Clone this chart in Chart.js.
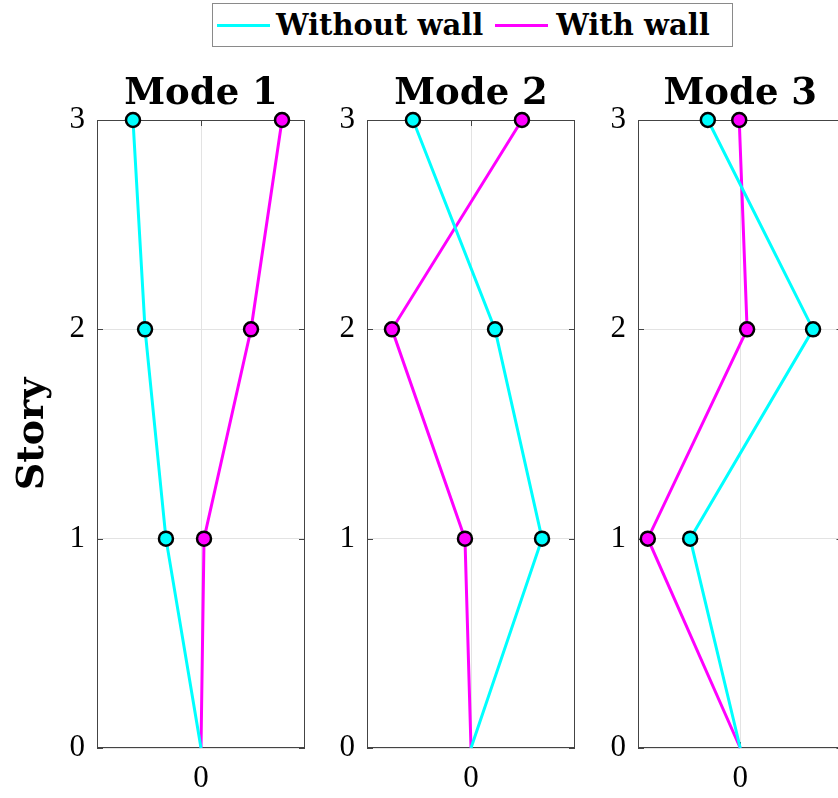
<!DOCTYPE html>
<html>
<head>
<meta charset="utf-8">
<script src="https://cdn.jsdelivr.net/npm/chart.js@4/dist/chart.umd.min.js"></script>
<style>
  html, body { margin: 0; padding: 0; background: #fff; overflow: hidden; width: 838px; height: 798px; }
  .panel { position: absolute; top: 0; height: 798px; }
  #legend {
    position: absolute; left: 212px; top: 3px; width: 519px; height: 42px;
    border: 1.5px solid #8a8a8a; background: #fff;
    font: bold 29px "DejaVu Serif", serif; color: #000;
    display: flex; align-items: center; white-space: nowrap;
  }
  #legend .sw { display: inline-block; width: 53px; height: 3px; }
</style>
</head>
<body>
<canvas id="p1" class="panel" style="left:0px" width="320" height="798"></canvas>
<canvas id="p2" class="panel" style="left:320px" width="270" height="798"></canvas>
<canvas id="p3" class="panel" style="left:590px" width="262" height="798"></canvas>
<div id="legend">
  <span class="sw" style="background:#00ffff;margin:0 6px 0 4px"></span><span>Without wall</span>
  <span class="sw" style="background:#ff00ff;margin:0 8px 0 12px"></span><span>With wall</span>
</div>
<script>
'use strict';

// story levels (y) and modal displacement (x)
const stories = [0, 1, 2, 3];
const modeTitles = ['Mode 1', 'Mode 2', 'Mode 3'];
const seriesNames = ['Without wall', 'With wall'];
const withoutWall1 = [0, -0.337, -0.538, -0.654];
const withWall1 = [0, 0.029, 0.481, 0.779];
const withoutWall2 = [0, 0.683, 0.231, -0.558];
const withWall2 = [0, -0.058, -0.76, 0.49];
const withoutWall3 = [0, -0.49, 0.712, -0.317];
const withWall3 = [0, -0.904, 0.067, -0.01];
const xTicks = [0];
const yTicks = [0, 1, 2, 3];

const CYAN = '#00ffff', MAGENTA = '#ff00ff';
const tickFont = { family: '"Liberation Serif", serif', size: 31 };

// box, inward ticks and title for each panel
const frame = {
  id: 'frame',
  beforeDatasetsDraw(chart, args, opts) {
    const { ctx, chartArea: a, scales } = chart;
    ctx.save();
    ctx.strokeStyle = '#444';
    ctx.lineWidth = 1;
    ctx.strokeRect(a.left + 0.5, a.top + 0.5, a.right - a.left - 1, a.bottom - a.top - 1);
    ctx.beginPath();
    yTicks.forEach(v => {
      const y = Math.round(scales.y.getPixelForValue(v)) + 0.5;
      ctx.moveTo(a.left, y); ctx.lineTo(a.left + 6, y);
      ctx.moveTo(a.right, y); ctx.lineTo(a.right - 6, y);
    });
    xTicks.forEach(v => {
      const x = Math.round(scales.x.getPixelForValue(v)) + 0.5;
      ctx.moveTo(x, a.top); ctx.lineTo(x, a.top + 6);
      ctx.moveTo(x, a.bottom); ctx.lineTo(x, a.bottom - 6);
    });
    ctx.stroke();
    ctx.restore();
  },
  afterDraw(chart, args, opts) {
    const { ctx, chartArea: a } = chart;
    ctx.save();
    ctx.fillStyle = '#000';
    ctx.font = 'bold 37px "DejaVu Serif", serif';
    ctx.textAlign = 'center';
    ctx.textBaseline = 'alphabetic';
    ctx.fillText(opts.title, (a.left + a.right) / 2, 104);
    ctx.restore();
  }
};

const makeSet = (label, xs, color) => ({
  label: label,
  data: xs.map((x, i) => ({ x: x, y: stories[i] })),
  showLine: true,
  borderColor: color,
  borderWidth: 3,
  backgroundColor: color,
  pointBackgroundColor: color,
  pointBorderColor: '#000',
  pointBorderWidth: 2.5,
  pointRadius: stories.map(s => s === 0 ? 0 : 7),
  clip: false
});

const makePanel = (id, title, withoutWall, withWall, axisWidth, padRight, showTitle) => {
  new Chart(document.getElementById(id), {
    type: 'scatter',
    data: {
      datasets: [
        makeSet(seriesNames[0], withoutWall, CYAN),
        makeSet(seriesNames[1], withWall, MAGENTA)
      ]
    },
    options: {
      responsive: false,
      animation: false,
      events: [],
      layout: { padding: { top: 120, right: padRight, left: 0, bottom: 0 } },
      plugins: {
        legend: { display: false },
        tooltip: { enabled: false },
        frame: { title: title }
      },
      scales: {
        x: {
          min: -1, max: 1,
          afterBuildTicks: s => { s.ticks = xTicks.map(v => ({ value: v })); },
          afterFit: s => { s.height = 50; },
          border: { display: false },
          grid: { color: '#e3e3e3', drawTicks: false },
          ticks: { font: tickFont, color: '#000', padding: 12, maxRotation: 0 }
        },
        y: {
          min: 0, max: 3,
          afterBuildTicks: s => { s.ticks = yTicks.map(v => ({ value: v })); },
          afterFit: s => { s.width = axisWidth; },
          border: { display: false },
          grid: { color: '#e3e3e3', drawTicks: false },
          ticks: { font: tickFont, color: '#000', padding: 12 },
          title: {
            display: showTitle,
            text: 'Story',
            color: '#000',
            font: { family: '"DejaVu Serif", serif', size: 38, weight: 'bold' },
            padding: { top: 10, bottom: 0 }
          }
        }
      }
    },
    plugins: [frame]
  });
};

makePanel('p1', modeTitles[0], withoutWall1, withWall1, 97, 15, true);
makePanel('p2', modeTitles[1], withoutWall2, withWall2, 47, 15, false);
makePanel('p3', modeTitles[2], withoutWall3, withWall3, 48, 6, false);
</script>
</body>
</html>
